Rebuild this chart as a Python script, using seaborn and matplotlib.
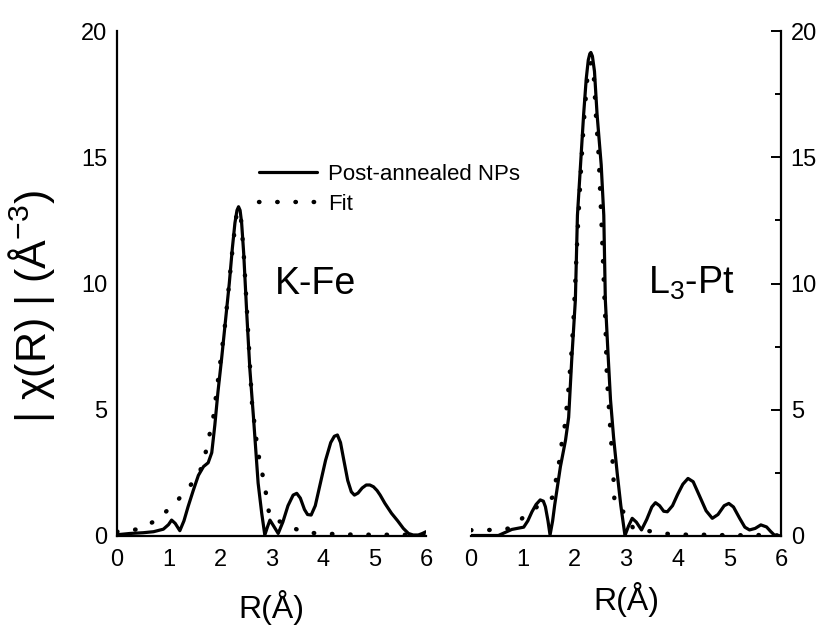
import numpy as np
import pandas as pd
import matplotlib
matplotlib.use("Agg")
import matplotlib.pyplot as plt
import seaborn as sns

# ---------------- data ----------------
fe_exp_r = [0.00, 0.25, 0.51, 0.71, 0.90, 1.00, 1.06, 1.13, 1.22, 1.30, 1.38, 1.48, 1.58, 1.68, 1.77, 1.84,
            1.90, 1.96, 2.03, 2.10, 2.18, 2.24, 2.29, 2.33, 2.36, 2.39, 2.42, 2.46, 2.52, 2.58, 2.65, 2.74,
            2.81, 2.87, 2.92, 2.97, 3.04, 3.13, 3.22, 3.32, 3.42, 3.49, 3.56, 3.64, 3.70, 3.77, 3.85, 3.95,
            4.05, 4.15, 4.22, 4.28, 4.34, 4.40, 4.48, 4.55, 4.61, 4.68, 4.76, 4.84, 4.91, 4.98, 5.05, 5.11,
            5.20, 5.33, 5.45, 5.56, 5.66, 5.75, 5.85, 5.93, 6.00]
fe_exp_y = [0.05, 0.10, 0.13, 0.17, 0.27, 0.45, 0.63, 0.50, 0.21, 0.60, 1.16, 1.80, 2.40, 2.75, 2.90, 3.30,
            4.40, 5.70, 7.00, 8.40, 10.00, 11.40, 12.40, 12.90, 13.04, 12.90, 12.40, 11.20, 8.80, 6.60, 4.70, 2.10,
            0.90, 0.04, 0.35, 0.63, 0.40, 0.10, 0.55, 1.20, 1.62, 1.69, 1.50, 1.05, 0.85, 0.83, 1.20, 2.10,
            3.00, 3.70, 3.95, 4.00, 3.70, 3.05, 2.20, 1.75, 1.62, 1.70, 1.90, 2.02, 2.02, 1.95, 1.80, 1.62,
            1.30, 0.90, 0.60, 0.30, 0.10, 0.04, 0.04, 0.10, 0.17]

fe_fit_r = [0.00, 0.38, 0.74, 1.06, 1.35, 1.60, 1.71, 1.87, 2.10, 2.24, 2.31, 2.36, 2.41, 2.46, 2.54, 2.62,
            2.70, 2.78, 2.86, 2.91, 2.97, 3.05, 3.17, 3.38, 3.68, 4.00, 4.40, 5.00, 5.50, 6.00]
fe_fit_y = [0.17, 0.26, 0.59, 1.16, 1.80, 2.48, 3.20, 4.70, 8.40, 11.30, 12.60, 12.90, 12.50, 11.20, 8.30, 5.30,
            3.90, 2.80, 2.15, 1.43, 0.70, 0.62, 0.57, 0.34, 0.13, 0.10, 0.06, 0.05, 0.05, 0.05]

pt_exp_r = [0.00, 0.53, 0.79, 1.02, 1.10, 1.18, 1.26, 1.34, 1.40, 1.44, 1.49, 1.53, 1.58, 1.62, 1.73, 1.83,
            1.89, 1.95, 2.02, 2.06, 2.12, 2.18, 2.23, 2.27, 2.30, 2.32, 2.35, 2.39, 2.44, 2.52, 2.57, 2.60,
            2.65, 2.70, 2.76, 2.83, 2.90, 2.98, 3.05, 3.12, 3.20, 3.30, 3.40, 3.50, 3.57, 3.65, 3.73, 3.80,
            3.90, 4.00, 4.10, 4.20, 4.30, 4.42, 4.55, 4.67, 4.78, 4.90, 4.99, 5.08, 5.20, 5.30, 5.39, 5.50,
            5.61, 5.72, 5.80, 5.87, 5.94, 6.00]
pt_exp_y = [0.02, 0.02, 0.26, 0.35, 0.60, 0.96, 1.25, 1.43, 1.38, 1.16, 0.60, 0.04, 0.60, 1.23, 2.74, 3.80,
            4.70, 7.00, 9.35, 12.70, 14.70, 16.70, 18.10, 18.85, 19.10, 19.15, 19.00, 18.40, 16.70, 14.70, 12.70, 9.35,
            7.30, 5.40, 3.90, 2.48, 1.20, 0.02, 0.40, 0.70, 0.55, 0.24, 0.65, 1.15, 1.32, 1.20, 0.98, 0.96,
            1.20, 1.65, 2.05, 2.28, 2.15, 1.60, 1.00, 0.70, 0.85, 1.20, 1.29, 1.15, 0.70, 0.35, 0.24, 0.30,
            0.44, 0.36, 0.18, 0.04, 0.01, 0.01]

pt_fit_r = [0.00, 0.39, 0.76, 1.18, 1.58, 1.65, 1.71, 1.76, 1.82, 1.89, 1.95, 1.99, 2.06, 2.12, 2.18, 2.25,
            2.30, 2.34, 2.38, 2.42, 2.47, 2.52, 2.60, 2.63, 2.70, 2.75, 2.78, 2.86, 2.95, 3.05, 3.15, 3.50,
            3.86, 4.22, 4.58, 4.94, 5.30, 5.66, 6.00]
pt_fit_y = [0.23, 0.24, 0.30, 1.03, 1.53, 2.28, 2.98, 3.73, 4.43, 5.90, 7.40, 8.80, 11.90, 14.20, 16.30, 18.10,
            18.70, 18.75, 18.10, 16.60, 15.10, 12.70, 8.55, 6.30, 4.13, 2.68, 1.20, 1.05, 0.96, 0.60, 0.28, 0.18,
            0.07, 0.05, 0.05, 0.03, 0.03, 0.04, 0.02]

x_ticks = [0, 1, 2, 3, 4, 5, 6]
y_ticks = [0, 5, 10, 15, 20]
exp_label = "Post-annealed NPs"
fit_label = "Fit"
panel_labels = ["K-Fe", "L$_3$-Pt"]

# ---------------- style ----------------
sns.set_style("white")
plt.rcParams["font.family"] = ["Liberation Sans", "DejaVu Sans"]
plt.rcParams["mathtext.fontset"] = "custom"
plt.rcParams["mathtext.rm"] = "Liberation Sans"
plt.rcParams["mathtext.it"] = "Liberation Sans:italic"
plt.rcParams["mathtext.default"] = "regular"
for k in ["text.color", "axes.labelcolor", "xtick.color", "ytick.color", "axes.edgecolor"]:
    plt.rcParams[k] = "black"

fig = plt.figure(figsize=(8.25, 6.34), dpi=100)
axL = fig.add_axes([117 / 825, 1 - 536 / 634, 309 / 825, 505 / 634])
axR = fig.add_axes([471 / 825, 1 - 536 / 634, 310 / 825, 505 / 634])

lw = 2.3
def draw(ax, er, ey, fr, fy, legend):
    d1 = pd.DataFrame({"r": er, "y": ey})
    d2 = pd.DataFrame({"r": fr, "y": fy})
    sns.lineplot(data=d1, x="r", y="y", ax=ax, color="black", lw=lw, estimator=None,
                 sort=False, label=exp_label if legend else None, legend=False)
    sns.lineplot(data=d2, x="r", y="y", ax=ax, color="black", lw=3.2, estimator=None,
                 sort=False, label=fit_label if legend else None, legend=False,
                 linestyle=(0, (0.1, 4.0)), dash_capstyle="round")

draw(axL, fe_exp_r, fe_exp_y, fe_fit_r, fe_fit_y, True)
draw(axR, pt_exp_r, pt_exp_y, pt_fit_r, pt_fit_y, False)

for ax in (axL, axR):
    ax.set_xlim(0, 6)
    ax.set_ylim(0, 20)
    ax.set_xticks(x_ticks)
    ax.set_xticks(np.arange(0.5, 6, 1.0), minor=True)
    ax.set_yticks(y_ticks)
    ax.set_yticks(np.arange(2.5, 20, 5.0), minor=True)
    ax.tick_params(which="major", direction="in", length=7, width=1.4, labelsize=17,
                   colors="black")
    ax.tick_params(axis="x", which="major", pad=9)
    ax.tick_params(axis="y", which="major", pad=7)
    ax.tick_params(which="minor", direction="in", length=4, width=1.4, colors="black")
    ax.set_xlabel("")
    ax.set_ylabel("")
    ax.spines["top"].set_visible(False)
    for s in ax.spines.values():
        s.set_linewidth(1.6)
        s.set_color("black")
    ax.patch.set_alpha(0)

axL.spines["right"].set_visible(False)
axR.spines["left"].set_visible(False)
axR.yaxis.tick_right()
axR.yaxis.set_label_position("right")
axR.tick_params(axis="y", which="both", left=False, right=True)

axL.set_xlabel("R(Å)", fontsize=23, labelpad=14)
axR.set_xlabel("R(Å)", fontsize=23, labelpad=8)
axL.set_ylabel("| χ(R) | (Å$^{-3}$)", fontsize=31)
axL.yaxis.set_label_coords(-0.195, 0.455)

axL.text(0.51, 0.50, panel_labels[0], transform=axL.transAxes, fontsize=27, ha="left", va="center")
axR.text(0.57, 0.50, panel_labels[1], transform=axR.transAxes, fontsize=27, ha="left", va="center")

leg = axL.legend(loc="upper left", bbox_to_anchor=(0.43, 0.755), frameon=False, fontsize=16,
                 handlelength=2.6, handletextpad=0.5, labelspacing=0.42, borderaxespad=0)

fig.savefig("out.png", dpi=100)
